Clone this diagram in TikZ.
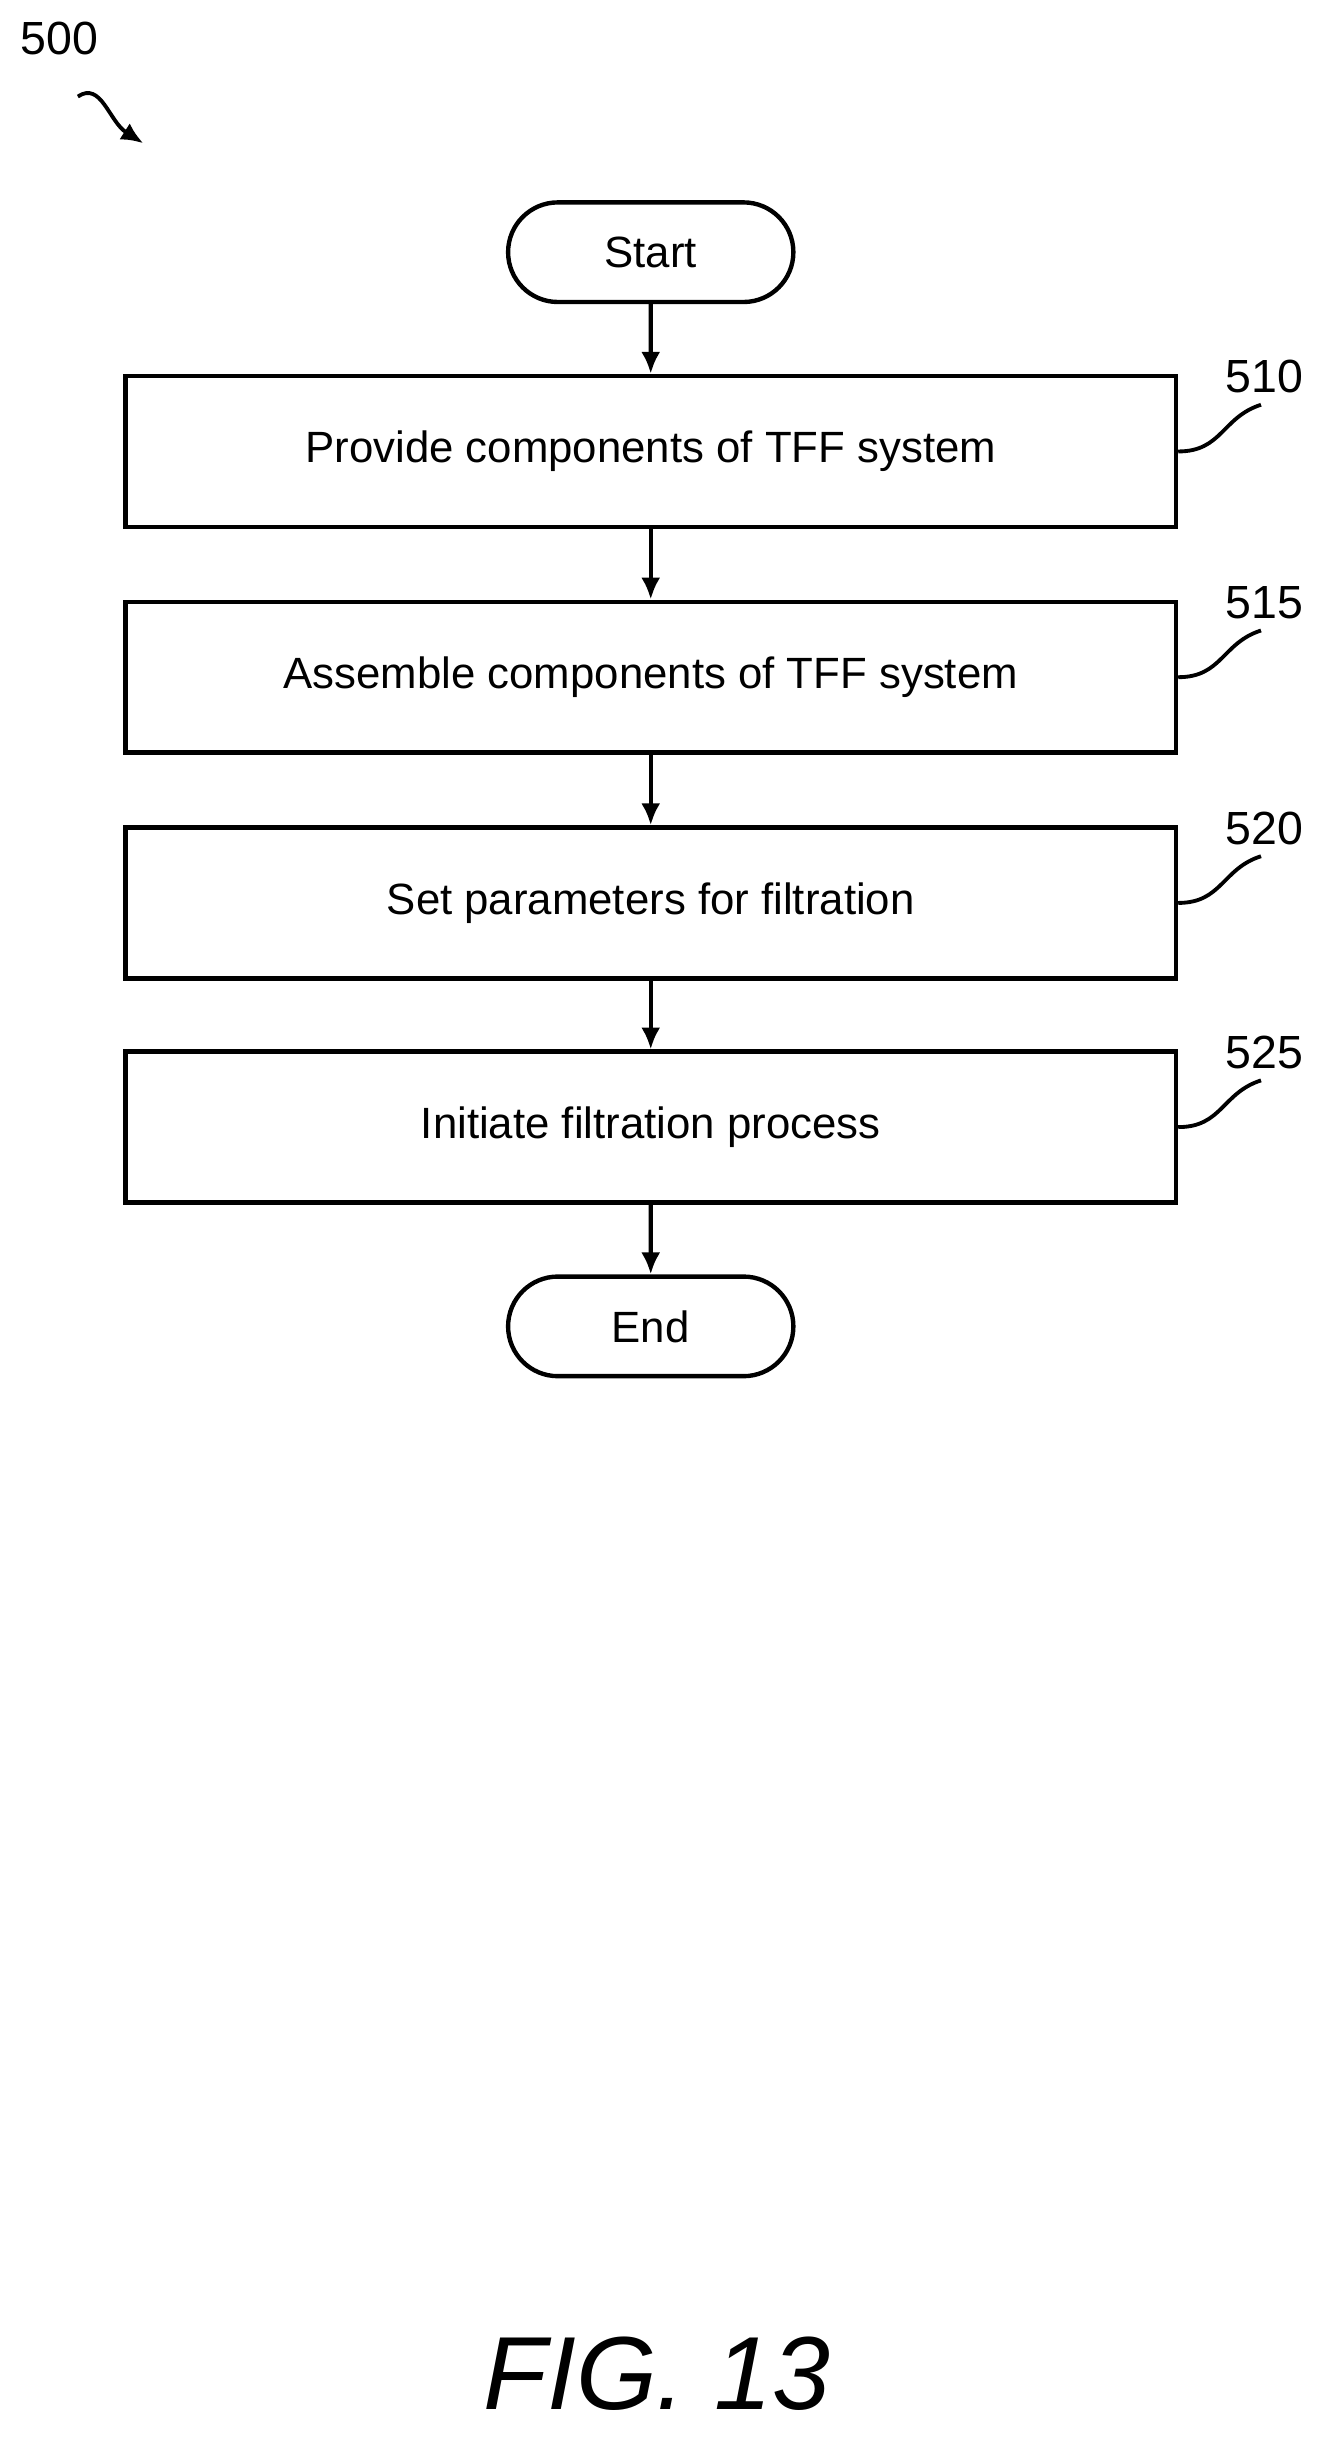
\documentclass[tikz,border=0pt]{standalone}
\usepackage{fontspec}
\setmainfont{Liberation Sans}
\usetikzlibrary{arrows.meta, positioning, shapes.misc}

\tikzset{
  stepbox/.style={draw, line width=1.6pt, minimum width=13.5cm, minimum height=1.94cm, font=\fontsize{16}{18}\selectfont},
  term/.style={draw, line width=1.6pt, rounded rectangle, minimum width=3.9cm, minimum height=1.28cm, font=\fontsize{16}{18}\selectfont},
  flow/.style={-{Latex[length=8pt,width=7pt]}, line width=1.6pt},
  lead/.style={line width=1.4pt},
  ref/.style={font=\fontsize{17}{19}\selectfont}
}

\begin{document}
\begin{tikzpicture}[x=0.02cm, y=-0.02cm]
  \useasboundingbox (0,0) rectangle (850,1568);

  % flow chart
  \node[term] (start) at (418,162) {Start};
  \node[stepbox] (s510) at (418,290) {Provide components of TFF system};
  \node[stepbox] (s515) at (418,435) {Assemble components of TFF system};
  \node[stepbox] (s520) at (418,580) {Set parameters for filtration};
  \node[stepbox] (s525) at (418,724) {Initiate filtration process};
  \node[term] (end) at (418,852) {End};

  \draw[flow] (start) -- (s510);
  \draw[flow] (s510) -- (s515);
  \draw[flow] (s515) -- (s520);
  \draw[flow] (s520) -- (s525);
  \draw[flow] (s525) -- (end);

  % reference numerals
  \foreach \n/\y in {510/290, 515/435, 520/580, 525/724} {
    \node[ref] (l\n) at (812,\y-48) {\n};
    \draw[lead] (s\n.east) .. controls (785,\y) and (785,\y-22) .. (810,\y-30);
  }

  \node[ref] (l500) at (38,25) {500};
  \coordinate (a500) at (92,92);
  \draw[lead, -{Latex[length=8pt,width=7pt]}] (50,62) .. controls (65,52) and (70,78) .. (a500);

  \node[font=\fontsize{38}{40}\selectfont\itshape] (fig) at (422,1525) {FIG. 13};
\end{tikzpicture}
\end{document}
